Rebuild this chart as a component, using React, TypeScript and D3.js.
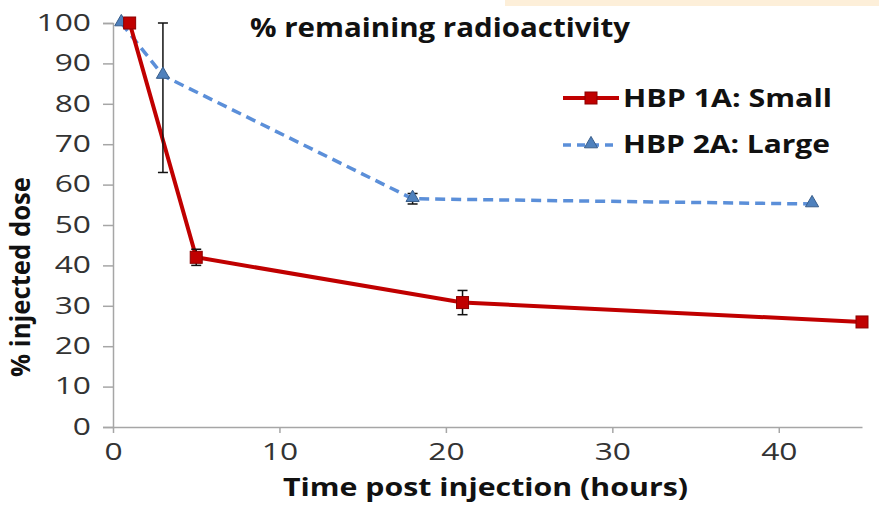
import React, { useEffect, useRef } from "react";
import * as d3 from "d3";

// hours post injection
const smallHours = [1, 5, 21, 45];
const smallDose = [100, 42, 30.8, 26];
const smallErr = [0, 2, 3, 0];

const largeHours = [0.5, 3, 18, 42];
const largeDose = [100, 87, 56.5, 55.2];
const largeErr = [0, 24, 1.3, 0];

const xTicks = [0, 10, 20, 30, 40];
const yTicks = [0, 10, 20, 30, 40, 50, 60, 70, 80, 90, 100];

const seriesNames = ["HBP 1A: Small", "HBP 2A: Large"];

const width = 879;
const height = 506;
const margin = { top: 23, right: 17, bottom: 79, left: 113 };

export default function App() {
  const ref = useRef<SVGSVGElement>(null);

  useEffect(() => {
    const svg = d3.select(ref.current);
    svg.selectAll("*").remove();

    const x = d3.scaleLinear().domain([0, 45]).range([margin.left, width - margin.right]);
    const y = d3.scaleLinear().domain([0, 100]).range([height - margin.bottom, margin.top]);
    const font = "'Open Sans', sans-serif";
    const axisColor = "#a6a6a6";
    const stretch = 1.38; // the source image text is wide

    // top strip
    svg.append("rect").attr("x", 505).attr("y", 0).attr("width", width - 505).attr("height", 6).attr("fill", "#fdefd9");

    // y axis
    const yAxis = svg.append("g").attr("transform", `translate(${margin.left},0)`)
      .call(d3.axisLeft(y).tickValues(yTicks).tickSize(10).tickPadding(9));
    yAxis.select(".domain").attr("stroke", axisColor).attr("stroke-width", 1.5);
    yAxis.selectAll(".tick line").attr("stroke", axisColor).attr("stroke-width", 1.5);
    yAxis.selectAll(".tick text").attr("font-family", font).attr("font-size", 23).attr("fill", "#333")
      .attr("x", -22 / stretch).attr("transform", `scale(${stretch},1)`);

    // x axis
    const xAxis = svg.append("g").attr("transform", `translate(0,${height - margin.bottom})`)
      .call(d3.axisBottom(x).tickValues(xTicks).tickSize(6).tickPadding(11).tickSizeOuter(0));
    xAxis.select(".domain").attr("stroke", axisColor).attr("stroke-width", 1.5);
    xAxis.selectAll(".tick line").attr("stroke", axisColor).attr("stroke-width", 1.5);
    xAxis.selectAll(".tick text").attr("font-family", font).attr("font-size", 23).attr("fill", "#333")
      .attr("transform", `scale(${stretch},1)`);

    const small = smallHours.map((h, i) => ({ h, v: smallDose[i], e: smallErr[i] }));
    const large = largeHours.map((h, i) => ({ h, v: largeDose[i], e: largeErr[i] }));

    const line = d3.line<{ h: number; v: number }>().x(d => x(d.h)).y(d => y(d.v));

    svg.append("path").datum(large).attr("d", line).attr("fill", "none")
      .attr("stroke", "#5b8fd9").attr("stroke-width", 3.5).attr("stroke-dasharray", "10,6");
    svg.append("path").datum(small).attr("d", line).attr("fill", "none")
      .attr("stroke", "#c00000").attr("stroke-width", 4);

    // error bars
    const drawErr = (data: { h: number; v: number; e: number }[]) => {
      data.filter(d => d.e > 0).forEach(d => {
        const g = svg.append("g").attr("stroke", "#111").attr("stroke-width", 1.5);
        const cx = x(d.h);
        const hi = y(Math.min(100, d.v + d.e));
        const lo = y(d.v - d.e);
        g.append("line").attr("x1", cx).attr("x2", cx).attr("y1", hi).attr("y2", lo);
        g.append("line").attr("x1", cx - 5).attr("x2", cx + 5).attr("y1", hi).attr("y2", hi);
        g.append("line").attr("x1", cx - 5).attr("x2", cx + 5).attr("y1", lo).attr("y2", lo);
      });
    };
    drawErr(small);
    drawErr(large);

    const tri = d3.symbol().type(d3.symbolTriangle).size(75);

    svg.selectAll(".tri").data(large).join("path")
      .attr("transform", d => `translate(${x(d.h)},${y(d.v) - 1})`)
      .attr("d", tri).attr("fill", "#4f81bd").attr("stroke", "#385d8a").attr("stroke-width", 1);
    svg.selectAll(".sq").data(small).join("rect")
      .attr("x", d => x(d.h) - 6).attr("y", d => y(d.v) - 6).attr("width", 12).attr("height", 12)
      .attr("fill", "#c00000").attr("stroke", "#8b0000").attr("stroke-width", 1);

    const boldText = (tx: number, ty: number, size: number, len: number, s: string) =>
      svg.append("text").attr("x", tx).attr("y", ty)
        .attr("font-family", font).attr("font-weight", "bold").attr("font-size", size).attr("fill", "#111")
        .attr("textLength", len).attr("lengthAdjust", "spacingAndGlyphs").text(s);

    // title
    boldText(250, 37, 27, 380, "% remaining radioactivity");

    // legend
    const ly = [98, 145];
    svg.append("line").attr("x1", 563).attr("x2", 619).attr("y1", ly[0]).attr("y2", ly[0])
      .attr("stroke", "#c00000").attr("stroke-width", 4);
    svg.append("rect").attr("x", 585).attr("y", ly[0] - 6).attr("width", 12).attr("height", 12)
      .attr("fill", "#c00000").attr("stroke", "#8b0000");
    svg.append("line").attr("x1", 563).attr("x2", 614).attr("y1", ly[1]).attr("y2", ly[1])
      .attr("stroke", "#5b8fd9").attr("stroke-width", 3.5).attr("stroke-dasharray", "8,6");
    svg.append("path").attr("transform", `translate(591,${ly[1] - 1})`).attr("d", tri)
      .attr("fill", "#4f81bd").attr("stroke", "#385d8a");
    boldText(623, 107, 25, 209, seriesNames[0]);
    boldText(623, 153, 25, 207, seriesNames[1]);

    // axis titles
    boldText(283, 496, 25, 405, "Time post injection (hours)");
    svg.append("text").attr("transform", `translate(30,377) rotate(-90)`)
      .attr("font-family", font).attr("font-weight", "bold").attr("font-size", 26).attr("fill", "#111")
      .attr("textLength", 200).attr("lengthAdjust", "spacingAndGlyphs")
      .text("% injected dose");
  }, []);

  return (
    <svg ref={ref} width={width} height={height}
      style={{ position: "absolute", left: 0, top: 0, background: "#fff" }} />
  );
}
